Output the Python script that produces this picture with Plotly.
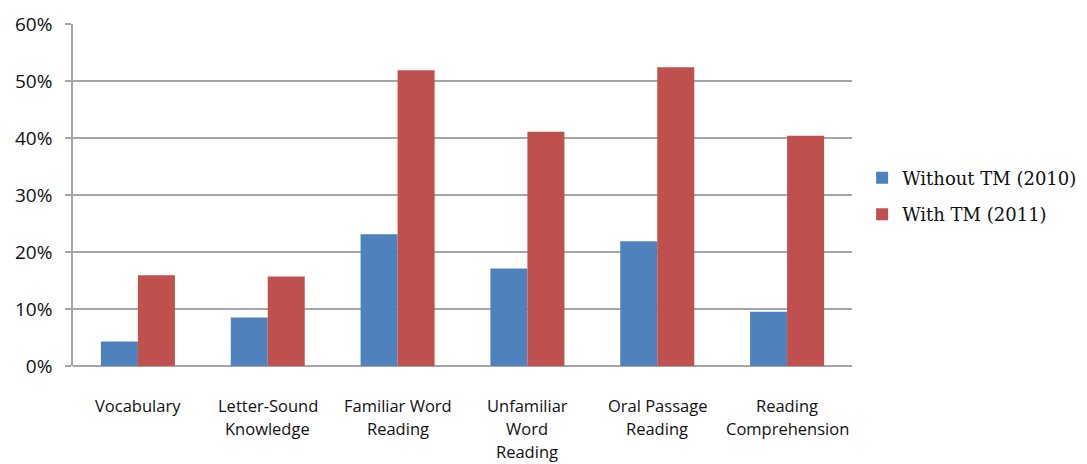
import plotly.graph_objects as go

categories = ["Vocabulary", "Letter-Sound<br>Knowledge", "Familiar Word<br>Reading",
              "Unfamiliar<br>Word<br>Reading", "Oral Passage<br>Reading", "Reading<br>Comprehension"]
without_tm = [0.043, 0.085, 0.231, 0.171, 0.219, 0.095]
with_tm = [0.159, 0.157, 0.519, 0.411, 0.524, 0.404]
series_names = ["Without TM (2010)", "With TM (2011)"]
y_ticks = [0, 0.1, 0.2, 0.3, 0.4, 0.5, 0.6]
y_ticklabels = ["0%", "10%", "20%", "30%", "40%", "50%", "60%"]

fig = go.Figure()
fig.add_trace(go.Bar(x=categories, y=without_tm, name=series_names[0],
                     marker=dict(color="#4F81BD", line=dict(width=0)), legendgroup="a"))
fig.add_trace(go.Bar(x=categories, y=with_tm, name=series_names[1],
                     marker=dict(color="#C0504D", line=dict(width=0)), legendgroup="b"))

# category labels as annotations (Excel-like line spacing)
for c in categories:
    for i, line in enumerate(c.split("<br>")):
        fig.add_annotation(x=c, xref="x", y=0, yref="paper", text=line, showarrow=False,
                           yanchor="middle", yshift=-39 - 23 * i,
                           font=dict(family="Open Sans, sans-serif", size=16.5, color="#111111"))

fig.update_layout(
    width=1087, height=464,
    margin=dict(l=73, r=235, t=24, b=98, autoexpand=False),
    paper_bgcolor="white", plot_bgcolor="white",
    barmode="group", bargap=0.43, bargroupgap=0,
    showlegend=True,
    legend=dict(x=1.013, y=0.497, xanchor="left", yanchor="middle",
                font=dict(family="DejaVu Serif, serif", size=18, color="#111111"),
                tracegroupgap=10, traceorder="grouped", bgcolor="rgba(0,0,0,0)"),
)
fig.update_xaxes(showticklabels=False, showline=False, showgrid=False, ticks="")
fig.update_yaxes(range=[0, 0.6], tickvals=y_ticks, ticktext=y_ticklabels,
                 showgrid=True, gridcolor="#A6A6A6", gridwidth=1.5,
                 showline=True, linecolor="#A6A6A6", linewidth=1.5,
                 ticks="outside", ticklen=6, tickcolor="#A6A6A6", tickwidth=1.5,
                 zeroline=True, zerolinecolor="#A6A6A6", zerolinewidth=1.5,
                 tickfont=dict(family="Open Sans, sans-serif", size=19, color="#111111"),
                 ticklabelstandoff=9)

fig.write_html("out.html")
